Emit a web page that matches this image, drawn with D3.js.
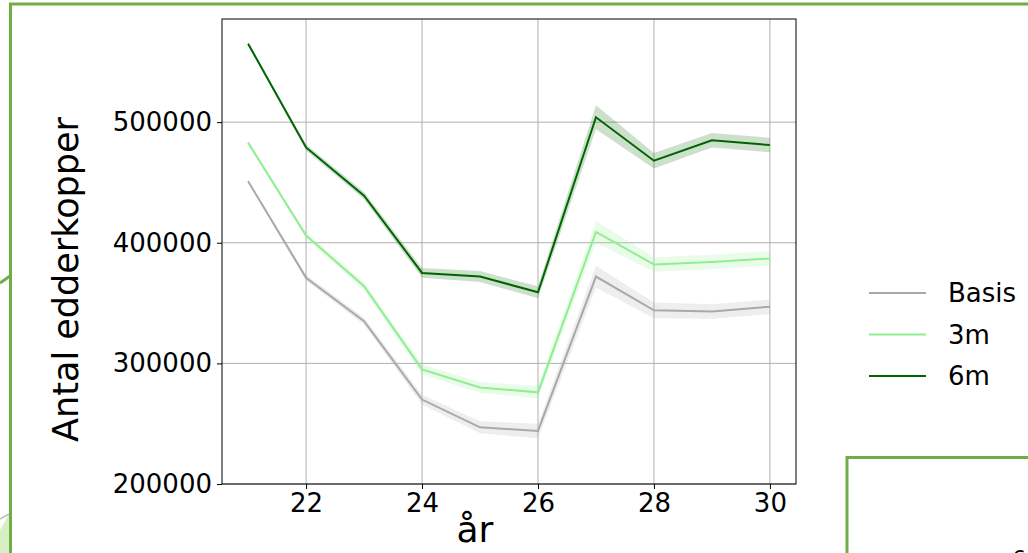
<!DOCTYPE html>
<html>
<head>
<meta charset="utf-8">
<script src="https://cdn.jsdelivr.net/npm/d3@7"></script>
<style>
  body { margin: 0; background: #fff; }
  svg { display: block; font-family: "DejaVu Sans", sans-serif; }
</style>
</head>
<body>
<div id="chart"></div>
<script>
// years on the x axis
const years = [21, 22, 23, 24, 25, 26, 27, 28, 29, 30]

// mean number of spiders per scenario
const basis = [451000, 371000, 335000, 270000, 247000, 244000, 372000, 344000, 343000, 347000]
const m3 = [483000, 406000, 364000, 295000, 280000, 276000, 409000, 382000, 384000, 387000]
const m6 = [565000, 479000, 439000, 375000, 372000, 359000, 504000, 468000, 485000, 481000]

// half width of the confidence band
const basisCi = [1500, 2500, 3000, 4000, 5000, 6000, 9000, 6500, 6000, 6000]
const m3Ci = [1500, 2500, 3000, 4000, 4500, 5000, 9000, 6000, 6000, 6000]
const m6Ci = [1500, 2500, 3000, 4000, 4500, 5000, 10000, 6500, 6000, 6000]

const seriesNames = ["Basis", "3m", "6m"]
const seriesColors = ["#a9a9a9", "#90ee90", "#006400"]

const xTicks = [22, 24, 26, 28, 30]
const yTicks = [200000, 300000, 400000, 500000]

const width = 1028, height = 553
const plot = { left: 222, right: 796, top: 19, bottom: 484 }
const green = "#70ad47"

const svg = d3.select("#chart").append("svg")
    .attr("width", width)
    .attr("height", height)

// slide decoration around the figure
svg.append("path")
    .attr("d", "M0,530 L0,553 L9,553 L9,514 Z")
    .attr("fill", "#d6f0c4")
svg.append("line")
    .attr("x1", 0).attr("y1", 519).attr("x2", 9).attr("y2", 514)
    .attr("stroke", "#bbb").attr("stroke-width", 1.5)
svg.append("line")
    .attr("x1", 0).attr("y1", 283).attr("x2", 10).attr("y2", 276)
    .attr("stroke", green).attr("stroke-width", 3)
svg.append("rect")
    .attr("x", 10.5).attr("y", 4)
    .attr("width", 1100).attr("height", 700)
    .attr("fill", "none").attr("stroke", green).attr("stroke-width", 3)
svg.append("rect")
    .attr("x", 847).attr("y", 457.5)
    .attr("width", 400).attr("height", 300)
    .attr("fill", "#fff").attr("stroke", green).attr("stroke-width", 3)
// top of a glyph from the next box, cut by the window edge as in the slide
svg.append("text")
    .attr("x", 1012).attr("y", 566)
    .style("font-size", "22px")
    .text("6")

const x = d3.scaleLinear().domain([20.55, 30.45]).range([plot.left, plot.right])
const y = d3.scaleLinear().domain([200000, 585500]).range([plot.bottom, plot.top])

// grid
const grid = svg.append("g")
grid.selectAll(".gx").data(xTicks).enter().append("line")
    .attr("x1", d => x(d)).attr("x2", d => x(d))
    .attr("y1", plot.top).attr("y2", plot.bottom)
    .attr("stroke", "#b0b0b0").attr("stroke-width", 1)
grid.selectAll(".gy").data(yTicks).enter().append("line")
    .attr("x1", plot.left).attr("x2", plot.right)
    .attr("y1", d => y(d)).attr("y2", d => y(d))
    .attr("stroke", "#b0b0b0").attr("stroke-width", 1)

const series = [
    { name: seriesNames[0], color: seriesColors[0], values: basis, ci: basisCi },
    { name: seriesNames[1], color: seriesColors[1], values: m3, ci: m3Ci },
    { name: seriesNames[2], color: seriesColors[2], values: m6, ci: m6Ci }
]

const area = d3.area()
    .x((d, i) => x(years[i]))
    .y0(d => y(d.v - d.c))
    .y1(d => y(d.v + d.c))

const line = d3.line()
    .x((d, i) => x(years[i]))
    .y(d => y(d))

series.forEach(s => {
    let band = s.values.map((v, i) => ({ v: v, c: s.ci[i] }))
    svg.append("path")
        .attr("d", area(band))
        .attr("fill", s.color)
        .attr("fill-opacity", 0.2)
})
series.forEach(s => {
    svg.append("path")
        .attr("d", line(s.values))
        .attr("fill", "none")
        .attr("stroke", s.color)
        .attr("stroke-width", 2)
})

// axes
const xAxis = svg.append("g")
    .attr("transform", `translate(0,${plot.bottom})`)
    .call(d3.axisBottom(x).tickValues(xTicks).tickSize(5).tickPadding(5))
const yAxis = svg.append("g")
    .attr("transform", `translate(${plot.left},0)`)
    .call(d3.axisLeft(y).tickValues(yTicks).tickSize(5).tickPadding(5).tickFormat(d3.format("d")))

;[xAxis, yAxis].forEach(a => {
    a.select(".domain").remove()
    a.selectAll("text")
        .style("font-family", "DejaVu Sans")
        .style("font-size", "26px")
        .attr("fill", "#000")
    a.selectAll("line").attr("stroke", "#000")
})

svg.append("rect")
    .attr("x", plot.left).attr("y", plot.top)
    .attr("width", plot.right - plot.left).attr("height", plot.bottom - plot.top)
    .attr("fill", "none").attr("stroke", "#000").attr("stroke-width", 1)

svg.append("text")
    .attr("x", 475)
    .attr("y", 542)
    .attr("text-anchor", "middle")
    .style("font-size", "36px")
    .text("år")

svg.append("text")
    .attr("transform", `translate(78,${(plot.top + plot.bottom) / 2 + 28}) rotate(-90)`)
    .attr("text-anchor", "middle")
    .style("font-size", "35px")
    .text("Antal edderkopper")

// legend
const legend = svg.append("g").attr("transform", "translate(869,293)")
series.forEach((s, i) => {
    legend.append("line")
        .attr("x1", 0).attr("x2", 57)
        .attr("y1", i * 41.5).attr("y2", i * 41.5)
        .attr("stroke", s.color).attr("stroke-width", 2)
    legend.append("text")
        .attr("x", 79).attr("y", i * 41.5)
        .attr("dy", "0.35em")
        .style("font-size", "26px")
        .text(s.name)
})
</script>
</body>
</html>
